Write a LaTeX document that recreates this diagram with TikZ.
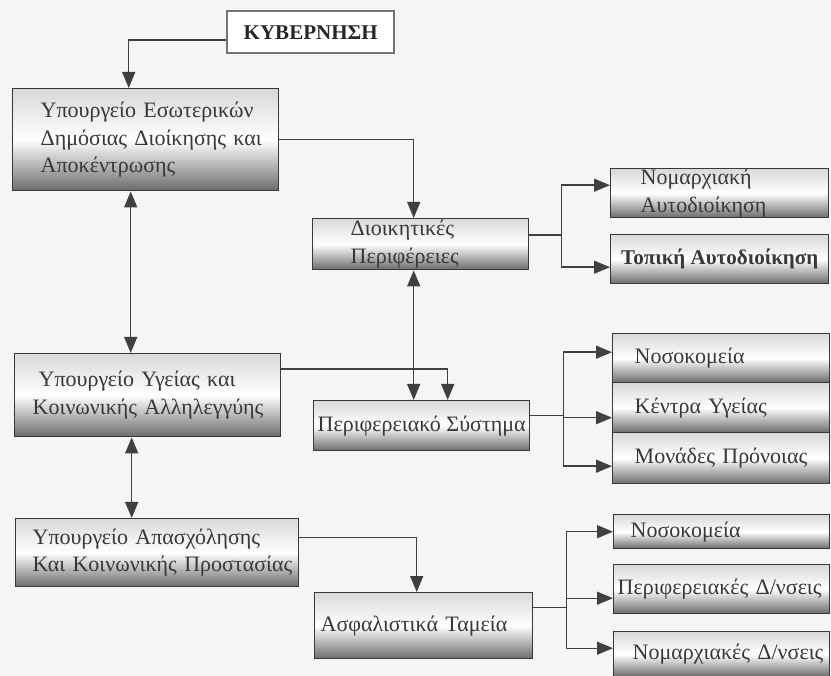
\documentclass[tikz,border=0pt]{standalone}
\usepackage{fontspec}
\setmainfont{Liberation Serif}
\usetikzlibrary{arrows.meta, calc}
\tikzset{
  orgbox/.style = {draw=black!78, line width=1.4pt, anchor=north west, align=left,
    top color=black!15, bottom color=black!58, middle color=white, text=black!78,
    font=\fontsize{22}{27.5}\selectfont, inner ysep=0pt},
  headbox/.style = {draw=black!55, line width=2.4pt, fill=white, anchor=north west,
    text=black!85, font=\bfseries\fontsize{21}{25}\selectfont,
    minimum width=167pt, minimum height=42pt},
  link/.style = {draw=black!75, line width=1.4pt, -{Triangle[length=16pt, width=13pt]}},
  twoway/.style = {link, {Triangle[length=16pt, width=13pt]}-{Triangle[length=16pt, width=13pt]}}
}

\begin{document}
\begin{tikzpicture}[x=1pt, y=-1pt]
\useasboundingbox[fill=black!4] (0,0) rectangle (831,676);
\node[headbox] (kyb) at (226,10) {ΚΥΒΕΡΝΗΣΗ};
\node[orgbox, minimum height=102pt, text width=210pt, inner xsep=28pt] (esot) at (12,88)
  {Υπουργείο~Εσωτερικών\\Δημόσιας~Διοίκησης~και\\Αποκέντρωσης};
\node[orgbox, minimum height=83pt, text width=230pt, inner xsep=18pt] (ygeia) at (14,353)
  {\hspace*{6pt}Υπουργείο~Υγείας~και\\Κοινωνικής~Αλληλεγγύης};
\node[orgbox, minimum height=68pt, text width=249pt, inner xsep=17pt] (apasx) at (15,518)
  {Υπουργείο~Απασχόλησης\\Και~Κοινωνικής~Προστασίας};
\node[orgbox, minimum height=51pt, text width=140pt, inner xsep=38pt] (dioik) at (312,218)
  {Διοικητικές\\Περιφέρειες};
\node[orgbox, minimum height=50pt, minimum width=216pt] (perif) at (313,400)
  {Περιφερειακό Σύστημα};
\node[orgbox, minimum height=66pt, text width=206pt, inner xsep=6pt] (asfal) at (314,592)
  {Ασφαλιστικά~Ταμεία};
\node[orgbox, minimum height=49pt, text width=158pt, inner xsep=30pt] (nomar) at (610,168)
  {Νομαρχιακή\\Αυτοδιοίκηση};
\node[orgbox, minimum height=49pt, minimum width=218pt, font=\bfseries\fontsize{21}{26}\selectfont] (topik) at (610,234)
  {Τοπική Αυτοδιοίκηση};
\node[orgbox, minimum height=49pt, text width=173pt, inner xsep=22pt] (nosok) at (612,333)
  {Νοσοκομεία};
\node[orgbox, minimum height=50pt, text width=173pt, inner xsep=22pt] (kentr) at (612,382)
  {Κέντρα~Υγείας};
\node[orgbox, minimum height=51pt, text width=173pt, inner xsep=22pt] (monad) at (612,432)
  {Μονάδες~Πρόνοιας};
\node[orgbox, minimum height=34pt, text width=182pt, inner xsep=17pt] (nosok2) at (613,514)
  {Νοσοκομεία};
\node[orgbox, minimum height=49pt, text width=208pt, inner xsep=4pt] (perid) at (613,564)
  {Περιφερειακές~Δ/νσεις};
\node[orgbox, minimum height=45pt, text width=178pt, inner xsep=19pt] (nomd) at (613,631)
  {Νομαρχιακές~Δ/νσεις};
\draw[link] ([yshift=-8pt]kyb.west) -| ([xshift=-17pt]esot.north);
\draw[link] (esot.east) -| ([xshift=-7pt]dioik.north);
\draw[twoway] ([xshift=-15pt]esot.south) -- ([xshift=-15pt]esot.south |- ygeia.north);
\draw[twoway] ([xshift=-16pt]ygeia.south) -- ([xshift=-16pt]ygeia.south |- apasx.north);
\draw[twoway] ([xshift=-7pt]dioik.south) -- ([xshift=-7pt]dioik.south |- perif.north);
\draw[link] ([yshift=26pt]ygeia.east) -| ([xshift=26pt]perif.north);
\draw[link] ([yshift=15pt]apasx.east) -| ([xshift=-7pt]asfal.north);
\draw[link] ([yshift=9pt]dioik.east) -- ++(32,0) |- ([yshift=8pt]nomar.west);
\draw[link] ([yshift=9pt]dioik.east) -- ++(32,0) |- ([yshift=-8pt]topik.west);
\draw[link] ([yshift=10pt]perif.east) -- ++(33,0) |- ([yshift=6pt]nosok.west);
\draw[link] ([yshift=10pt]perif.east) -- ++(33,0) |- ([yshift=-10pt]kentr.west);
\draw[link] ([yshift=10pt]perif.east) -- ++(33,0) |- ([yshift=-8pt]monad.west);
\draw[link] ([yshift=18pt]asfal.east) -- ++(33,0) |- (nosok2.west);
\draw[link] ([yshift=18pt]asfal.east) -- ++(33,0) |- ([yshift=-9pt]perid.west);
\draw[link] ([yshift=18pt]asfal.east) -- ++(33,0) |- ([yshift=6pt]nomd.west);
\end{tikzpicture}
\end{document}
